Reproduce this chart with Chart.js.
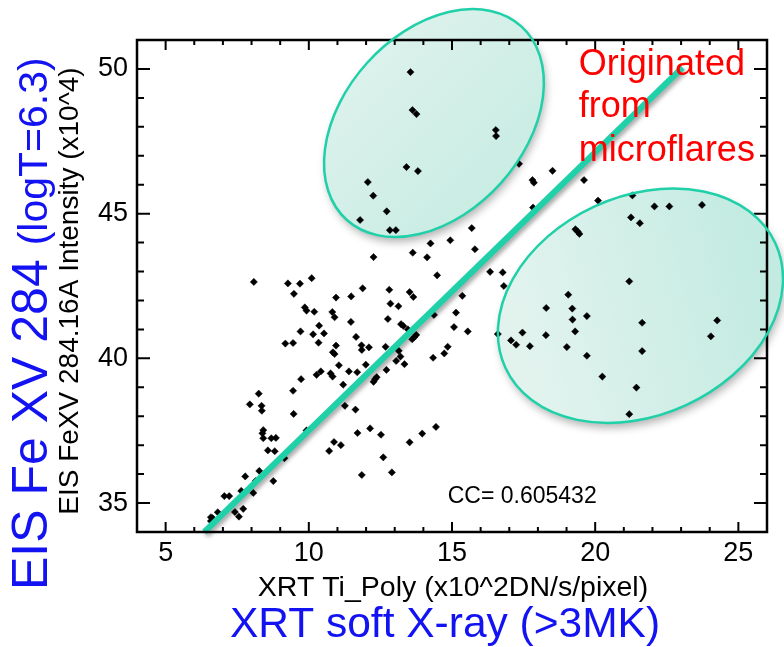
<!DOCTYPE html>
<html><head><meta charset="utf-8">
<script src="https://cdn.jsdelivr.net/npm/chart.js@4"></script>
<style>html,body{margin:0;padding:0;background:#fff}#wrap{width:784px;height:647px;position:relative}</style>
</head><body><div id="wrap"><canvas id="c" width="784" height="647"></canvas></div>
<script>
// ---- data ----
const xrt = [
13.55,13.62,13.76,16.53,16.54,17.34,13.41,13.81,17.81,17.86,12.06,12.25,12.72,17.83,11.79,12.83,13.04,15.69,
18.51,19.61,20.10,21.30,22.07,22.59,23.73,21.25,21.56,19.31,19.39,19.45,
14.25,14.94,13.63,12.26,14.13,15.80,14.48,16.33,16.77,16.81,11.88,12.81,13.52,13.65,10.95,11.48,15.36,12.85,13.13,10.82,10.90,14.37,15.14,12.76,11.47,13.22,13.30,13.46,15.07,15.55,13.75,13.68,13.61,11.65,10.95,11.84,11.85,12.10,12.68,14.85,13.14,10.84,10.90,13.20,14.73,14.34,13.05,11.05,11.99,13.34,11.40,11.69,12.71,10.76,10.83,
8.08,9.27,9.69,10.10,9.48,9.86,9.92,10.19,10.36,9.71,10.15,10.53,9.18,9.45,10.34,10.27,10.42,9.73,
9.45,11.20,8.25,7.94,8.35,8.36,9.47,11.26,8.41,8.38,8.41,8.69,8.85,9.92,8.57,8.81,9.15,10.71,10.88,11.12,8.27,7.78,8.14,8.76,7.64,8.06,7.05,7.22,7.42,7.71,7.56,6.82,6.58,6.64,6.58,
11.63,12.26,12.31,12.37,11.70,12.14,12.52,12.60,11.85,12.90,13.52,13.96,14.44,
21.19,19.06,18.29,19.20,19.21,19.71,21.64,24.26,16.60,17.46,18.28,19.30,24.04,17.06,17.24,17.72,19.01,21.64,19.71,20.25,21.44,21.19
];
const eis = [
49.89,48.58,48.44,47.89,47.68,46.72,46.61,46.47,46.16,46.07,46.09,45.62,45.08,45.21,44.78,44.43,44.43,44.50,
46.48,46.16,45.45,45.63,45.25,45.25,45.30,44.87,44.67,44.46,44.38,44.30,
43.97,44.08,43.65,43.50,43.49,43.77,42.87,42.99,42.97,42.50,42.42,42.37,42.29,42.12,42.10,42.14,42.16,41.89,41.80,41.60,41.42,41.50,41.58,41.36,41.26,41.18,41.12,41.00,41.08,40.93,40.81,40.73,40.66,40.74,40.44,40.45,40.29,40.38,40.40,40.40,40.26,40.21,40.15,40.06,40.17,40.02,39.91,39.76,39.78,39.80,39.55,39.52,39.60,39.48,39.37,
42.64,42.59,42.58,42.77,42.23,41.76,41.65,41.61,41.13,40.93,40.83,40.86,40.51,40.53,40.54,39.43,39.55,39.28,
38.88,39.09,38.78,38.41,38.36,38.19,38.08,38.36,37.52,37.41,37.24,37.24,37.25,37.51,36.82,36.79,36.55,36.80,37.11,37.00,36.11,35.92,35.76,35.76,35.42,35.35,35.24,35.24,34.69,34.80,34.53,34.68,34.51,34.48,34.38,
38.23,39.19,39.28,39.35,37.42,37.58,37.36,36.58,35.97,36.06,37.10,37.40,37.63,
42.66,42.20,41.74,41.72,41.34,41.46,41.23,41.31,40.84,40.89,40.80,40.93,40.76,40.62,40.47,40.42,40.39,40.25,40.09,39.37,38.99,38.07
];
const fitX = [6.35, 23.05];
const fitY = [34.0, 50.05];
const xTickLabels = [5, 10, 15, 20, 25];
const yTickLabels = [35, 40, 45, 50];
const ccText = 'CC= 0.605432';
const noteLines = ['Originated', 'from', 'microflares'];
const xTitle = 'XRT Ti_Poly (x10^2DN/s/pixel)';
const xTitle2 = 'XRT soft X-ray (>3MK)';
const yTitle = 'EIS FeXV 284.16A Intensity (x10^4)';
const yTitle2a = 'EIS Fe XV 284 ';
const yTitle2b = '(logT=6.3)';
// ellipse annotations (data-unit centres, semi-axes in x-units, rotation deg)
const ellipses = [
  {cx: 14.37, cy: 48.13, a: 4.55, b: 3.14, rot: -47.9, g: [-1, -1, 1, 1]},
  {cx: 21.58, cy: 41.82, a: 5.19, b: 3.82, rot: -24.7, g: [-1, 0.2, 1, -0.3]}
];

const FONT = '"Liberation Sans", Arial, Helvetica, sans-serif';
const TEAL = '#1fd0a8';
const BLUE = '#1212f2';

const points = xrt.map((x, i) => ({x, y: eis[i]}));
const fit = fitX.map((x, i) => ({x, y: fitY[i]}));

const deco = {
  id: 'deco',
  beforeDatasetDraw(chart, args) {
    if (args.index === 0) {
      const c = chart.ctx; c.save();
      c.shadowColor = 'rgba(0,0,0,0.35)'; c.shadowBlur = 4; c.shadowOffsetX = 2; c.shadowOffsetY = 3;
    }
  },
  afterDatasetDraw(chart, args) { if (args.index === 0) chart.ctx.restore(); },
  afterDraw(chart) {
    const c = chart.ctx, xs = chart.scales.x, ys = chart.scales.y, ca = chart.chartArea;
    const W = chart.width, H = chart.height;
    // frame
    c.save();
    c.strokeStyle = '#000'; c.lineWidth = 2.5;
    c.strokeRect(ca.left, ca.top, ca.right - ca.left, ca.bottom - ca.top);
    c.lineWidth = 2;
    c.beginPath();
    for (let v = xs.min + 1; v < xs.max; v++) {
      const p = xs.getPixelForValue(v), L = (v % 5 === 0) ? 10 : 5;
      c.moveTo(p, ca.bottom); c.lineTo(p, ca.bottom - L);
      c.moveTo(p, ca.top); c.lineTo(p, ca.top + L);
    }
    for (let v = ys.min + 1; v < ys.max; v++) {
      const p = ys.getPixelForValue(v), L = (v % 5 === 0) ? 13 : 7;
      c.moveTo(ca.left, p); c.lineTo(ca.left + L, p);
      c.moveTo(ca.right, p); c.lineTo(ca.right - L, p);
    }
    c.stroke();
    c.restore();

    // ellipses
    const ux = Math.abs(xs.getPixelForValue(1) - xs.getPixelForValue(0));
    ellipses.forEach(e => {
      const cx = xs.getPixelForValue(e.cx), cy = ys.getPixelForValue(e.cy);
      const a = e.a * ux, b = e.b * ux, r = e.rot * Math.PI / 180;
      // outer shadow
      c.save();
      c.beginPath(); c.rect(0, 0, W, H); c.ellipse(cx, cy, a, b, r, 0, 2 * Math.PI);
      c.clip('evenodd');
      c.shadowColor = 'rgba(0,0,0,0.30)'; c.shadowBlur = 9; c.shadowOffsetX = 2; c.shadowOffsetY = 5;
      c.beginPath(); c.ellipse(cx, cy, a, b, r, 0, 2 * Math.PI);
      c.fillStyle = '#fff'; c.fill();
      c.restore();
      // tinted fill (multiply keeps dots/axes dark)
      c.save();
      c.globalCompositeOperation = 'multiply';
      const R = Math.max(a, b);
      const g = c.createLinearGradient(cx + e.g[0] * R * 0.8, cy + e.g[1] * R * 0.8, cx + e.g[2] * R * 0.8, cy + e.g[3] * R * 0.8);
      g.addColorStop(0, '#e2f3ee'); g.addColorStop(1, '#c3ebe1');
      c.fillStyle = g;
      c.beginPath(); c.ellipse(cx, cy, a, b, r, 0, 2 * Math.PI); c.fill();
      c.restore();
      c.save();
      c.strokeStyle = TEAL; c.lineWidth = 2.5;
      c.beginPath(); c.ellipse(cx, cy, a, b, r, 0, 2 * Math.PI); c.stroke();
      c.restore();
    });

    // texts
    c.save();
    c.fillStyle = '#ff0000'; c.font = '36px ' + FONT; c.textAlign = 'left'; c.textBaseline = 'alphabetic';
    const nx = xs.getPixelForValue(19.43);
    const ny = [49.79, 48.34, 46.83];
    noteLines.forEach((t, i) => c.fillText(t, nx, ys.getPixelForValue(ny[i])));
    c.fillStyle = '#000'; c.font = '23px ' + FONT;
    c.fillText(ccText, xs.getPixelForValue(14.85), ys.getPixelForValue(35.01));
    // x titles
    const mx = (ca.left + ca.right) / 2;
    c.textAlign = 'center'; c.textBaseline = 'middle';
    c.font = '28.5px ' + FONT; c.fillText(xTitle, mx + 1, 588);
    c.fillStyle = BLUE; c.font = '42.5px ' + FONT; c.fillText(xTitle2, mx - 7, 625);
    // y titles
    c.save();
    c.translate(70, 291); c.rotate(-Math.PI / 2);
    c.fillStyle = '#000'; c.font = '28px ' + FONT; c.textAlign = 'center'; c.textBaseline = 'middle';
    c.fillText(yTitle, 0, 0);
    c.restore();
    c.save();
    c.translate(47, 590); c.rotate(-Math.PI / 2);
    c.fillStyle = BLUE; c.textAlign = 'left'; c.textBaseline = 'alphabetic';
    c.font = '50px ' + FONT; c.fillText(yTitle2a, 0, 0);
    const w = c.measureText(yTitle2a).width;
    c.font = '41px ' + FONT; c.fillText(yTitle2b, w, 0);
    c.restore();
    c.restore();
  }
};

new Chart(document.getElementById('c'), {
  data: {
    datasets: [
      {type: 'line', data: fit, borderColor: TEAL, borderWidth: 6, pointRadius: 0, fill: false, order: 0, clip: false, borderCapStyle: 'butt'},
      {type: 'scatter', data: points, pointStyle: 'rectRot', pointRadius: 3.6, backgroundColor: '#000', borderColor: '#000', borderWidth: 0.5, order: 1}
    ]
  },
  options: {
    responsive: false, animation: false, devicePixelRatio: 1,
    layout: {padding: {top: 40, right: 17, left: 0, bottom: 0}},
    plugins: {legend: {display: false}, tooltip: {enabled: false}},
    scales: {
      x: {
        type: 'linear', min: 4, max: 26,
        grid: {display: false, drawTicks: false}, border: {display: false},
        afterFit(s) { s.height = 115; },
        ticks: {
          stepSize: 1, autoSkip: false, maxRotation: 0, padding: 5, color: '#000',
          font: {family: FONT, size: 27},
          callback: v => xTickLabels.includes(v) ? String(v) : ''
        }
      },
      y: {
        type: 'linear', min: 34, max: 51,
        grid: {display: false, drawTicks: false}, border: {display: false},
        afterFit(s) { s.width = 137; },
        ticks: {
          stepSize: 1, autoSkip: false, padding: 9, color: '#000',
          font: {family: FONT, size: 27},
          callback: v => yTickLabels.includes(v) ? String(v) : ''
        }
      }
    }
  },
  plugins: [deco]
});
</script></body></html>
